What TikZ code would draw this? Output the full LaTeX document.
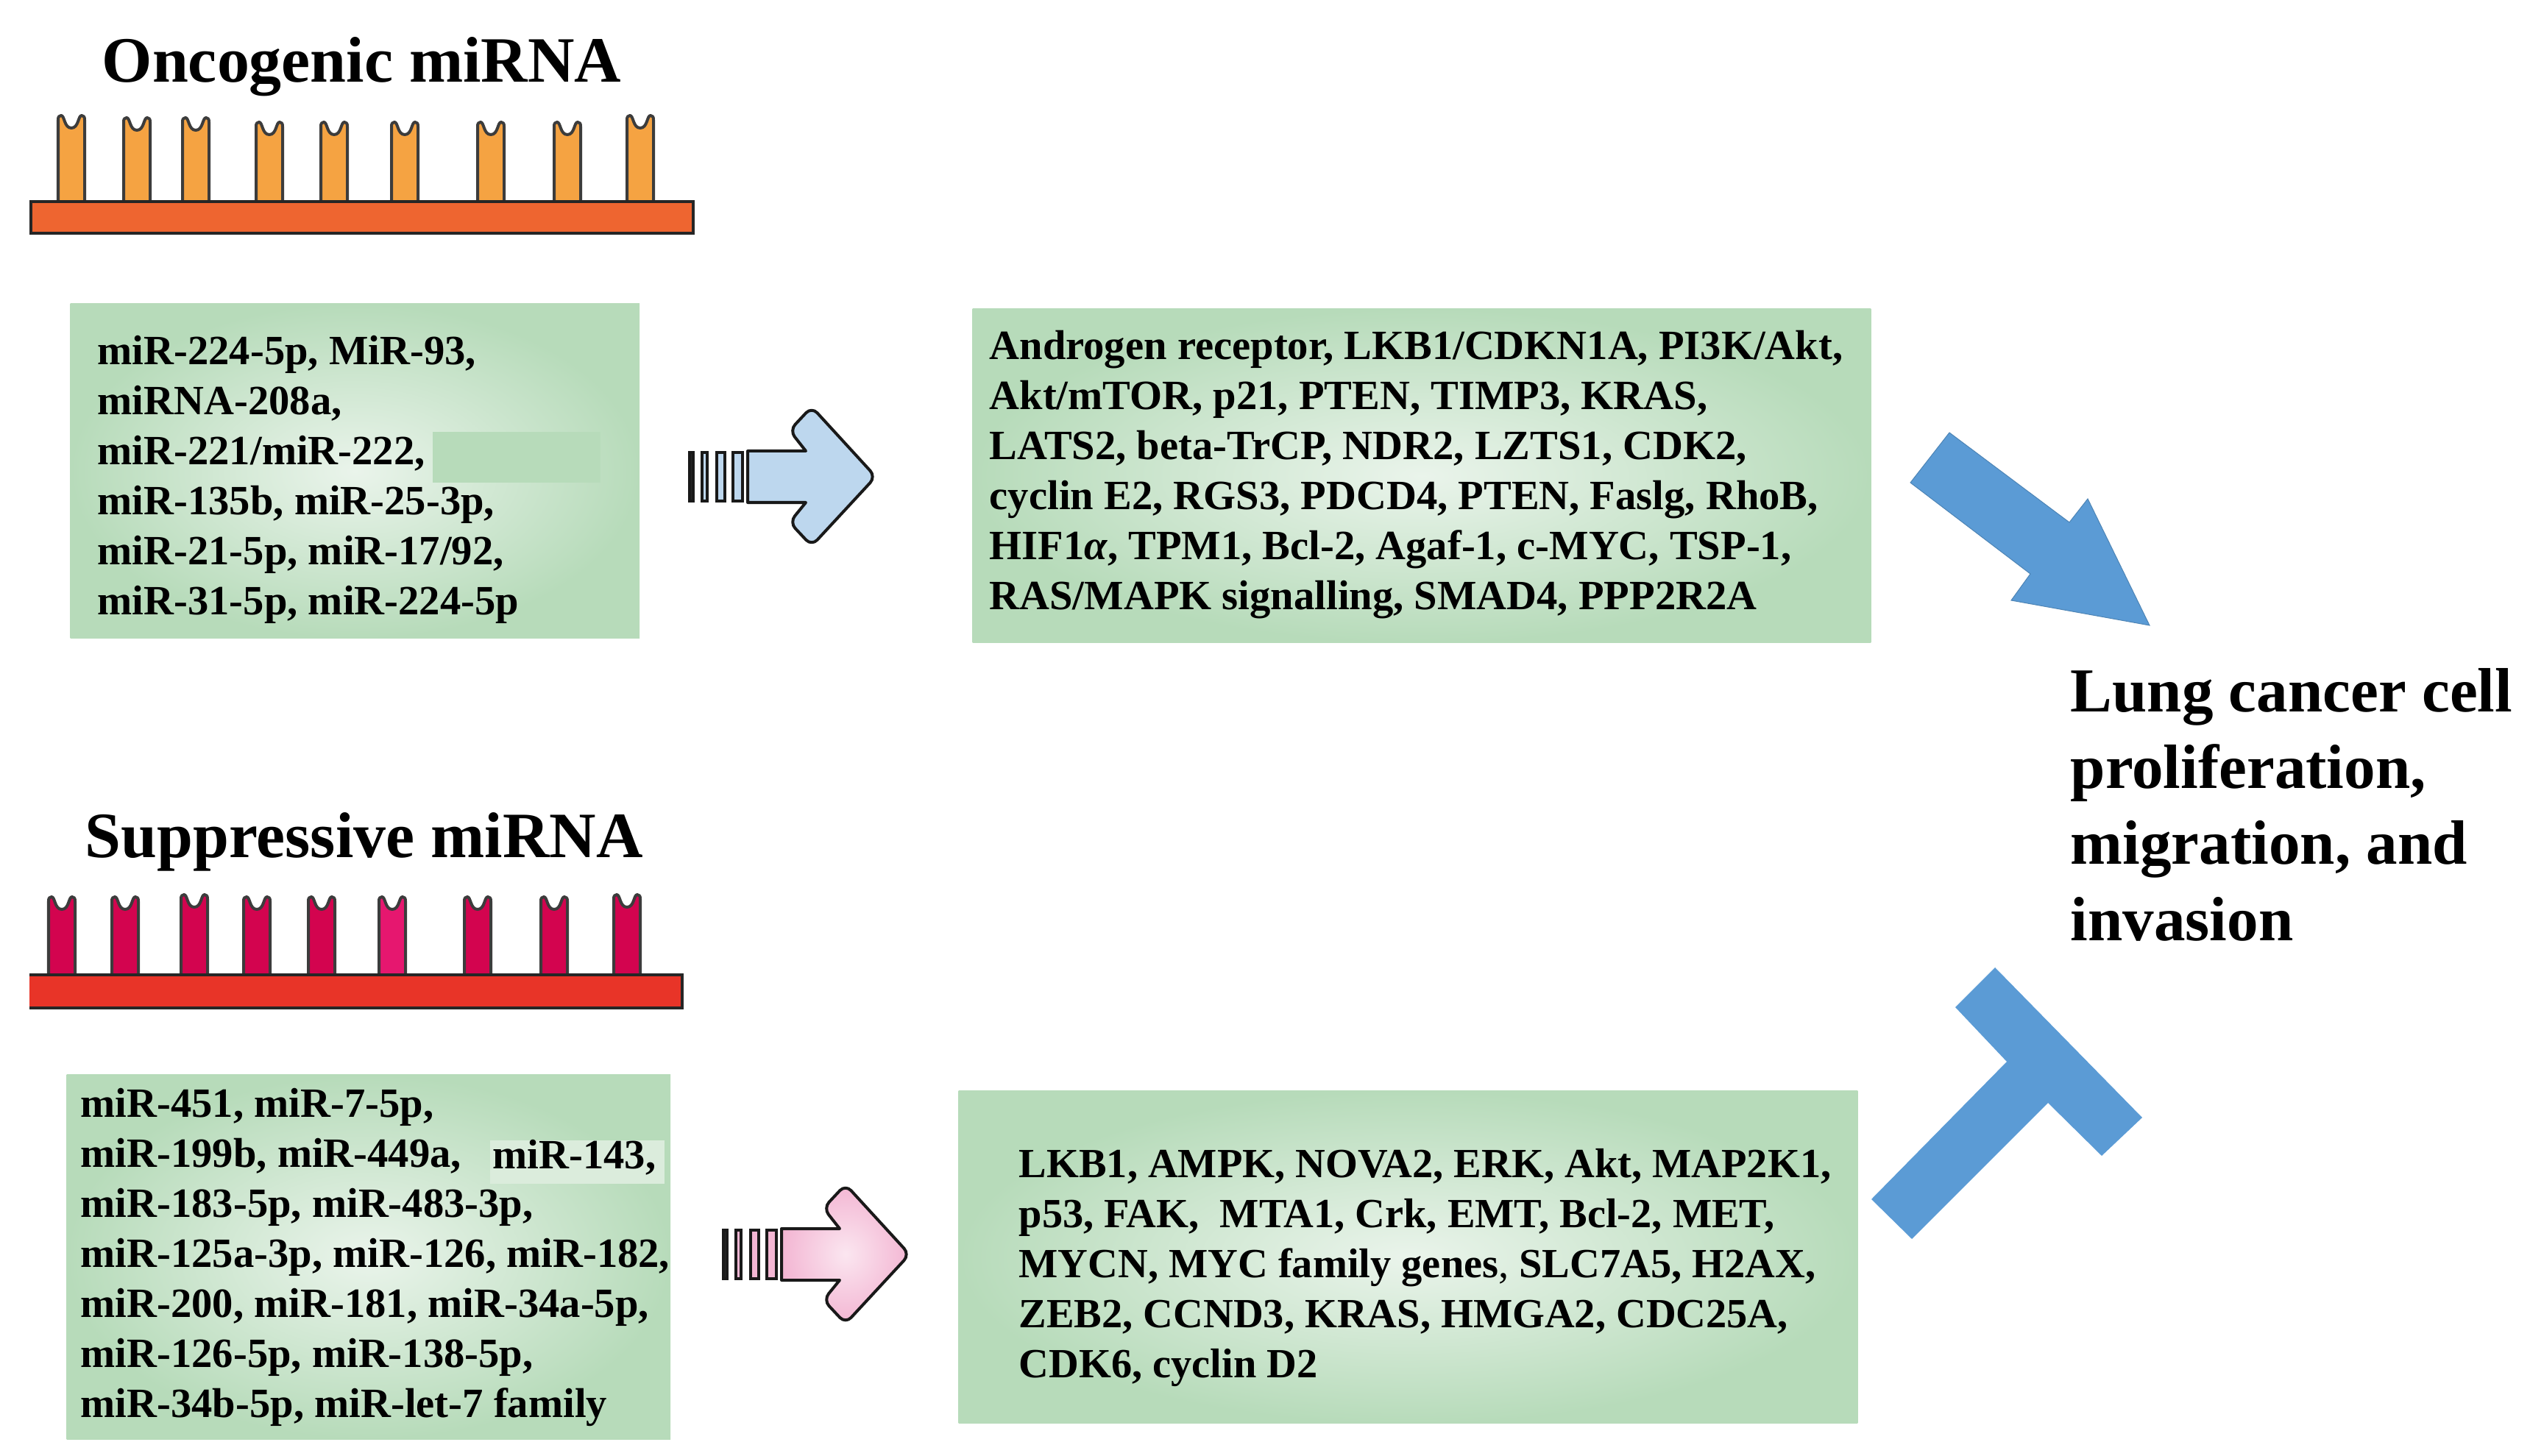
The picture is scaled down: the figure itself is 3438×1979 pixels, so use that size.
\documentclass[tikz,border=0pt]{standalone}
\usepackage{fontspec}
\setmainfont{Liberation Serif}
\usepackage{xcolor}
\usetikzlibrary{positioning}
\definecolor{boxgreen}{HTML}{B7DBBA}
\definecolor{boxglow}{HTML}{EAF4EB}
\definecolor{blockblue}{HTML}{5B9BD5}
\definecolor{paleblue}{HTML}{BDD7EE}
\definecolor{pinkglow}{HTML}{FBE6F0}
\definecolor{pinkedge}{HTML}{F3B6D3}
\definecolor{onco}{HTML}{F5A342}
\definecolor{oncobar}{HTML}{EE6530}
\definecolor{supp}{HTML}{D3044F}
\definecolor{suppbright}{HTML}{E6176F}
\definecolor{suppbar}{HTML}{E83428}
\definecolor{hairline}{HTML}{3C3C3C}

\begin{document}
\begin{tikzpicture}[x=0.01cm, y=-0.01cm,
                title/.style={font=\bfseries\fontsize{25}{30}\selectfont, inner sep=0pt, anchor=base west},
                listing/.style={font=\bfseries\fontsize{16.1}{19.3}\selectfont, align=left, inner sep=0pt, anchor=base west},
                outcome/.style={font=\bfseries\fontsize{24.2}{29.4}\selectfont, align=left, inner sep=0pt, anchor=base west},
                greenbox/.style={inner color=boxglow, outer color=boxgreen, inner sep=0pt, anchor=north west},
                patch/.style={inner sep=0pt, anchor=north west},
                bar/.style={draw=black!85, line width=0.035cm},
                tooth/.style={draw=hairline, line width=0.04cm, line join=round},
                stub/.style={draw=black!90, line width=0.04cm},
                block/.style={fill=blockblue, draw=blockblue!85!black, line width=0.01cm}]
                \useasboundingbox (0,0) rectangle (3438,1979);

                % oncogenic half
                \node[title] (oncotitle) at (138,112) {Oncogenic miRNA};
                \foreach \cx/\ty in {97/157,186/160,266/160,366/166,454/166,550/166,667/166,771/166,870/157}
                    \draw[tooth, fill=onco] (\cx-18,274) -- (\cx-18,\ty+6) .. controls (\cx-18,\ty+2) and (\cx-17,\ty) .. (\cx-14,\ty)
                        .. controls (\cx-9,\ty) and (\cx-10,\ty+17) .. (\cx,\ty+17)
                        .. controls (\cx+10,\ty+17) and (\cx+9,\ty) .. (\cx+14,\ty)
                        .. controls (\cx+17,\ty) and (\cx+18,\ty+2) .. (\cx+18,\ty+6) -- (\cx+18,274);
                \draw[bar, fill=oncobar] (42,274) rectangle (942,317);

                \node[greenbox, minimum width=7.73cm, minimum height=4.55cm] (oncobox) at (95,412) {};
                \node[patch, fill=boxgreen, minimum width=2.28cm, minimum height=0.69cm] (oncopatch) at (587,586) {};
                \node[listing] (oncolist) at (132,835) {miR-224-5p, MiR-93,\\
                      miRNA-208a,\\
                      miR-221/miR-222,\\
                      miR-135b, miR-25-3p,\\
                      miR-21-5p, miR-17/92,\\
                      miR-31-5p, miR-224-5p};

                \node[greenbox, minimum width=12.2cm, minimum height=4.54cm] (oncotargets) at (1321,419) {};
                \node[listing] (oncogenes) at (1344,828) {Androgen receptor, LKB1/CDKN1A, PI3K/Akt,\\
                      Akt/mTOR, p21, PTEN, TIMP3, KRAS,\\
                      LATS2, beta-TrCP, NDR2, LZTS1, CDK2,\\
                      cyclin E2, RGS3, PDCD4, PTEN, Faslg, RhoB,\\
                      HIF1\textit{α}, TPM1, Bcl-2, Agaf-1, c-MYC, TSP-1,\\
                      RAS/MAPK signalling, SMAD4, PPP2R2A};

                % suppressive half
                \node[title] (supptitle) at (115,1165) {Suppressive miRNA};
                \foreach \cx/\ty/\tint in {84/1219/supp,170/1219/supp,264/1216/supp,349/1219/supp,437/1219/supp,533/1219/suppbright,649/1219/supp,753/1219/supp,852/1216/supp}
                    \draw[tooth, fill=\tint] (\cx-18,1325) -- (\cx-18,\ty+6) .. controls (\cx-18,\ty+2) and (\cx-17,\ty) .. (\cx-14,\ty)
                        .. controls (\cx-9,\ty) and (\cx-10,\ty+17) .. (\cx,\ty+17)
                        .. controls (\cx+10,\ty+17) and (\cx+9,\ty) .. (\cx+14,\ty)
                        .. controls (\cx+17,\ty) and (\cx+18,\ty+2) .. (\cx+18,\ty+6) -- (\cx+18,1325);
                \fill[suppbar] (40,1325) rectangle (927,1370);
                \draw[bar] (40,1325) -- (927,1325) -- (927,1370) -- (40,1370);

                \node[greenbox, minimum width=8.2cm, minimum height=4.95cm] (suppbox) at (90,1460) {};
                \node[patch, fill=boxglow!70!boxgreen, minimum width=2.37cm, minimum height=0.59cm] (supppatch) at (665,1549) {};
                \node[listing] (supplist) at (109,1926) {miR-451, miR-7-5p,\\
                      miR-199b, miR-449a, \ \ \raisebox{-0.02cm}{miR-143,}\\
                      miR-183-5p, miR-483-3p,\\
                      miR-125a-3p, miR-126, miR-182,\\
                      miR-200, miR-181, miR-34a-5p,\\
                      miR-126-5p, miR-138-5p,\\
                      miR-34b-5p, miR-let-7 family};

                \node[greenbox, minimum width=12.21cm, minimum height=4.52cm] (supptargets) at (1302,1482) {};
                \node[listing, font=\bfseries\fontsize{16.04}{19.3}\selectfont] (suppgenes) at (1384,1872) {LKB1, AMPK, NOVA2, ERK, Akt, MAP2K1,\\
                      p53, FAK, \ MTA1, Crk, EMT, Bcl-2, MET,\\
                      MYCN, MYC family genes{\mdseries ,} SLC7A5, H2AX,\\
                      ZEB2, CCND3, KRAS, HMGA2, CDC25A,\\
                      CDK6, cyclin D2};

                % striped arrows
                \foreach \dx/\dy/\glow/\edge in {0/0/paleblue/paleblue,46/1057/pinkglow/pinkedge} {
                    \begin{scope}[shift={(\dx,\dy)}]
                        \draw[stub, fill=black!85] (937,615) rectangle (942,681);
                        \draw[stub, fill=\edge] (954,615) rectangle (961,681);
                        \draw[stub, fill=\edge] (974,615) rectangle (985,681);
                        \draw[stub, fill=\edge] (996,615) rectangle (1009,681);
                        \draw[stub, inner color=\glow, outer color=\edge, line join=round] (1016,683) -- (1016,613) -- (1095,613)
                            [rounded corners=0.11cm] -- (1073,585) -- (1103,553) -- (1190,648) -- (1103,742) -- (1073,710)
                            [sharp corners] -- (1095,683) -- cycle;
                    \end{scope}
                }

                % outcome
                \node[outcome] (outcometext) at (2813,1278) {Lung cancer cell\\
                      proliferation,\\
                      migration, and\\
                      invasion};
                \draw[block] (2596,656) -- (2649,588) -- (2812,710) -- (2837,678) -- (2921,850) -- (2733,816) -- (2759,780) -- cycle;
                \fill[blockblue] (2711,1315) -- (2911,1519) -- (2856,1571) -- (2783,1499) -- (2598,1684)
                      -- (2543,1630) -- (2727,1443) -- (2657,1369) -- cycle;
            \end{tikzpicture}
\end{document}
